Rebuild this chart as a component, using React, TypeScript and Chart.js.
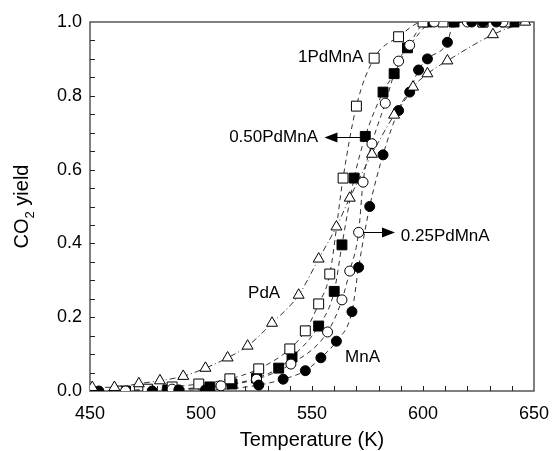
import React, { useEffect, useRef } from "react";
import { Chart, registerables } from "chart.js";
Chart.register(...registerables);

// ---- data (Temperature K, CO2 yield) ----
const temp1PdMnA = [462, 476, 487, 499, 513, 526, 540, 547, 553, 558, 564, 570, 578, 589, 600, 609, 627, 637];
const yield1PdMnA = [0.0, 0.005, 0.011, 0.019, 0.033, 0.06, 0.114, 0.163, 0.236, 0.317, 0.577, 0.772, 0.902, 0.96, 1.0, 1.0, 1.0, 1.0];

const temp050PdMnA = [466, 485, 504, 514, 525, 535, 541, 553, 560, 563.5, 569, 574, 582, 587, 593, 602, 614, 627, 641];
const yield050PdMnA = [0.0, 0.003, 0.011, 0.019, 0.035, 0.062, 0.092, 0.176, 0.27, 0.396, 0.577, 0.69, 0.81, 0.86, 0.93, 1.0, 1.0, 1.0, 1.0];

const temp025PdMnA = [466, 487, 509, 525, 540.5, 557, 563.5, 567, 571, 573, 577, 583, 589, 594, 605, 620, 636];
const yield025PdMnA = [0.0, 0.005, 0.014, 0.032, 0.073, 0.16, 0.247, 0.325, 0.43, 0.566, 0.67, 0.78, 0.894, 0.937, 1.0, 1.0, 1.0];

const tempPdA = [451, 461, 472, 481.5, 492, 502, 512, 521, 532, 544, 553, 561, 567, 577, 587, 595.5, 602, 611, 631.5, 646];
const yieldPdA = [0.01, 0.01, 0.02, 0.028, 0.04, 0.062, 0.09, 0.122, 0.184, 0.26, 0.358, 0.445, 0.523, 0.642, 0.748, 0.824, 0.86, 0.895, 0.966, 1.0];

const tempMnA = [454, 478, 490, 502, 526, 537, 547, 554, 561, 568, 571, 576, 582, 589, 594, 598, 602, 611, 614, 622, 627, 633];
const yieldMnA = [0.0, 0.0, 0.003, 0.003, 0.016, 0.032, 0.055, 0.09, 0.135, 0.215, 0.335, 0.5, 0.64, 0.76, 0.81, 0.87, 0.9, 0.945, 1.0, 1.0, 1.0, 1.0];

const xTicks = [450, 500, 550, 600, 650];
const yTicks = [0.0, 0.2, 0.4, 0.6, 0.8, 1.0];

const FONT = "Arial, 'Liberation Sans', sans-serif";

const pts = (xs: number[], ys: number[]) => xs.map((x, i) => ({ x, y: ys[i] }));

const framePlugin = {
  id: "frame",
  beforeDatasetsDraw(chart: any) {
    const { ctx, chartArea: a, scales } = chart;
    const x = scales.x, y = scales.y;
    ctx.save();
    ctx.strokeStyle = "#555";
    ctx.lineWidth = 1.5;
    ctx.strokeRect(a.left, a.top, a.right - a.left, a.bottom - a.top);
    ctx.strokeStyle = "#222";
    ctx.lineWidth = 1;
    ctx.beginPath();
    for (let v = 460; v < 650; v += 10) {
      const px = Math.round(x.getPixelForValue(v)) + 0.5;
      ctx.moveTo(px, a.bottom);
      ctx.lineTo(px, a.bottom - 5);
    }
    for (let i = 1; i < 20; i++) {
      const py = Math.round(y.getPixelForValue(i * 0.05)) + 0.5;
      ctx.moveTo(a.left, py);
      ctx.lineTo(a.left + 5, py);
    }
    ctx.stroke();
    ctx.restore();
  },
  afterDatasetsDraw(chart: any) {
    const { ctx, chartArea: a, scales } = chart;
    const x = scales.x, y = scales.y;
    ctx.save();
    ctx.fillStyle = "#000";
    ctx.font = `17px ${FONT}`;
    ctx.textBaseline = "middle";
    const txt = (s: string, vx: number, vy: number, align: CanvasTextAlign) => {
      ctx.textAlign = align;
      ctx.fillText(s, x.getPixelForValue(vx), y.getPixelForValue(vy));
    };
    txt("1PdMnA", 543.7, 0.905, "left");
    txt("0.50PdMnA", 552.7, 0.688, "right");
    txt("0.25PdMnA", 590, 0.42, "left");
    txt("PdA", 521.2, 0.266, "left");
    txt("MnA", 564.9, 0.092, "left");

    const arrow = (x0: number, x1: number, vy: number) => {
      const p0 = x.getPixelForValue(x0), p1 = x.getPixelForValue(x1);
      const py = Math.round(y.getPixelForValue(vy)) + 0.5;
      const dir = Math.sign(p1 - p0);
      ctx.strokeStyle = "#000";
      ctx.lineWidth = 1;
      ctx.beginPath();
      ctx.moveTo(p0, py);
      ctx.lineTo(p1 - dir * 10, py);
      ctx.stroke();
      ctx.beginPath();
      ctx.moveTo(p1, py);
      ctx.lineTo(p1 - dir * 13, py - 5);
      ctx.lineTo(p1 - dir * 13, py + 5);
      ctx.closePath();
      ctx.fill();
    };
    arrow(572.3, 555.6, 0.688);
    arrow(573, 587.4, 0.431);

    // axis titles
    ctx.textAlign = "center";
    ctx.textBaseline = "alphabetic";
    ctx.font = `20px ${FONT}`;
    ctx.fillText("Temperature (K)", (a.left + a.right) / 2, 446);

    ctx.translate(28, (a.top + a.bottom) / 2);
    ctx.rotate(-Math.PI / 2);
    ctx.textAlign = "left";
    const big = `20px ${FONT}`, small = `13px ${FONT}`;
    ctx.font = big;
    const w1 = ctx.measureText("CO").width;
    const w3 = ctx.measureText(" yield").width;
    ctx.font = small;
    const w2 = ctx.measureText("2").width;
    let cx = -(w1 + w2 + w3) / 2;
    ctx.font = big;
    ctx.fillText("CO", cx, 0);
    cx += w1;
    ctx.font = small;
    ctx.fillText("2", cx, 6);
    cx += w2;
    ctx.font = big;
    ctx.fillText(" yield", cx, 0);
    ctx.restore();
  },
};

const LINE = "#333";

export default function App() {
  const ref = useRef<HTMLCanvasElement | null>(null);
  useEffect(() => {
    if (!ref.current) return;
    const curve = (xs: number[], ys: number[], dash: number[]) => ({
      data: pts(xs, ys),
      showLine: true,
      borderColor: LINE,
      borderWidth: 1,
      borderDash: dash,
      pointRadius: 0,
      cubicInterpolationMode: "monotone",
      fill: false,
      order: 2,
    });
    const marks = (xs: number[], ys: number[], style: string, r: number, filled: boolean) => ({
      data: pts(xs, ys),
      showLine: false,
      pointStyle: style,
      pointRadius: r,
      pointHoverRadius: r,
      pointBackgroundColor: filled ? "#000" : "#fff",
      pointBorderColor: "#000",
      pointBorderWidth: 1,
      order: 1,
    });
    const chart = new Chart(ref.current, {
      type: "scatter",
      data: {
        datasets: [
          curve(tempPdA, yieldPdA, [6, 3, 1, 3]),
          curve(tempMnA, yieldMnA, [5, 4]),
          curve(temp1PdMnA, yield1PdMnA, [5, 4]),
          curve(temp050PdMnA, yield050PdMnA, [5, 4]),
          curve(temp025PdMnA, yield025PdMnA, [5, 4]),
          marks(tempPdA, yieldPdA, "triangle", 6.3, false),
          marks(tempMnA, yieldMnA, "circle", 5, true),
          marks(temp025PdMnA, yield025PdMnA, "circle", 5, false),
          marks(temp1PdMnA, yield1PdMnA, "rect", 7, false),
          marks(temp050PdMnA, yield050PdMnA, "rect", 7, true),
        ] as any,
      },
      options: {
        animation: false,
        responsive: false,
        events: [],
        layout: { padding: { top: 22, right: 19, left: 0, bottom: 0 } },
        plugins: { legend: { display: false }, tooltip: { enabled: false } },
        scales: {
          x: {
            type: "linear",
            min: 450,
            max: 650,
            afterFit: (s: any) => { s.height = 60; s.paddingLeft = 0; s.paddingRight = 0; s.paddingTop = 0; s.paddingBottom = 0; },
            afterBuildTicks: (s: any) => { s.ticks = xTicks.map((v) => ({ value: v })); },
            ticks: { font: { family: FONT, size: 18 }, color: "#000", padding: 12, maxRotation: 0 },
            grid: { display: false, drawTicks: false },
            border: { display: false },
          },
          y: {
            type: "linear",
            min: 0,
            max: 1,
            afterFit: (s: any) => { s.width = 90; s.paddingLeft = 0; s.paddingRight = 0; s.paddingTop = 0; s.paddingBottom = 0; },
            afterBuildTicks: (s: any) => { s.ticks = yTicks.map((v) => ({ value: v })); },
            ticks: { font: { family: FONT, size: 18 }, color: "#000", padding: 8, callback: (v: any) => Number(v).toFixed(1) },
            grid: { display: false, drawTicks: false },
            border: { display: false },
          },
        },
      },
      plugins: [framePlugin],
    });
    return () => chart.destroy();
  }, []);
  return (
    <div style={{ position: "fixed", left: 0, top: 0, width: 553, height: 451, background: "#fff" }}>
      <canvas ref={ref} width={553} height={451} />
    </div>
  );
}
